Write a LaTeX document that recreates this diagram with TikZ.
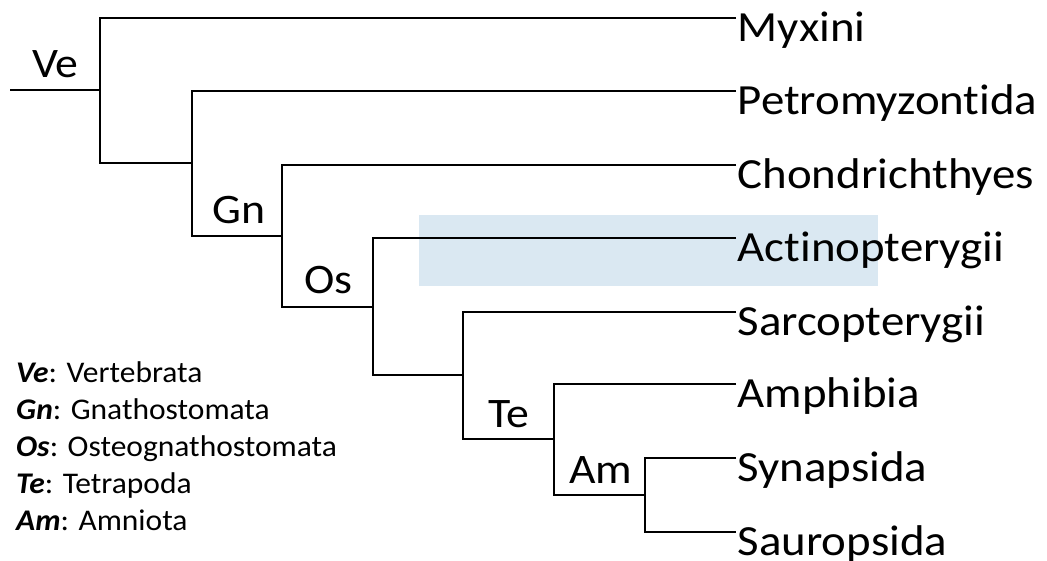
\documentclass[tikz,border=0pt]{standalone}
\usepackage{fontspec}
\setmainfont{Carlito}[Ligatures=NoCommon]
\newfontfamily\treefont{Carlito}[FakeStretch=1.09, Ligatures=NoCommon]
\newfontfamily\keyfont{Carlito}[FakeStretch=1.05, Ligatures=NoCommon]
\definecolor{hilite}{HTML}{DAE8F2}
\tikzset{
  branch/.style={line width=2pt, line join=miter},
  leaf/.style={anchor=west, inner xsep=1.5pt, inner ysep=0pt, text height=46pt, text depth=0pt,
               font=\treefont\fontsize{43}{43}\selectfont},
  clade/.style={anchor=base west, inner sep=0pt, font=\treefont\fontsize{42}{42}\selectfont},
  legend/.style={anchor=base west, inner sep=0pt, align=left, font=\keyfont\fontsize{30}{37}\selectfont}
}
\begin{document}
\begin{tikzpicture}[x=1pt, y=-1pt]
  \useasboundingbox (0,0) rectangle (1047,560);

  % highlighted lineage
  \fill[hilite] (419,215) rectangle (878,286);

  % terminal taxa
  \node[leaf] (myx)  at (736,18)  {Myxini};
  \node[leaf] (pet)  at (736,91)  {Petromyzontida};
  \node[leaf] (cho)  at (736,165) {Chondrichthyes};
  \node[leaf] (act)  at (736,238) {Actinopterygii};
  \node[leaf] (sar)  at (736,312) {Sarcopterygii};
  \node[leaf] (amp)  at (736,384) {Amphibia};
  \node[leaf] (syn)  at (736,458) {Synapsida};
  \node[leaf] (sau)  at (736,532) {Sauropsida};

  % internal nodes
  \coordinate (root) at (10,90);
  \coordinate (ve) at (100,90);
  \coordinate (gn) at (192,163);
  \coordinate (os) at (282,236);
  \coordinate (ost) at (373,307);
  \coordinate (te) at (463,375);
  \coordinate (tet) at (554,439);
  \coordinate (am) at (645,495);

  % branches
  \draw[branch] (root) -- (ve);
  \draw[branch] (myx.west) -| (ve) |- (gn);
  \draw[branch] (pet.west) -| (gn) |- (os);
  \draw[branch] (cho.west) -| (os) |- (ost);
  \draw[branch] (act.west) -| (ost) |- (te);
  \draw[branch] (sar.west) -| (te) |- (tet);
  \draw[branch] (amp.west) -| (tet) |- (am);
  \draw[branch] (syn.west) -| (am) |- (sau.west);

  % clade labels
  \node[clade] (lve) at (32,77)   {Ve};
  \node[clade] (lgn) at (212,223) {Gn};
  \node[clade] (los) at (304,293) {Os};
  \node[clade] (lte) at (488,427) {Te};
  \node[clade] (lam) at (569,483) {Am};

  % key to abbreviations (base anchor sits on the last line)
  \node[legend] (key) at (16,530) {%
    \textbf{\textit{Ve}}: Vertebrata\\
    \textbf{\textit{Gn}}: Gnathostomata\\
    \textbf{\textit{Os}}: Osteognathostomata\\
    \textbf{\textit{Te}}: Tetrapoda\\
    \textbf{\textit{Am}}: Amniota};
\end{tikzpicture}
\end{document}
